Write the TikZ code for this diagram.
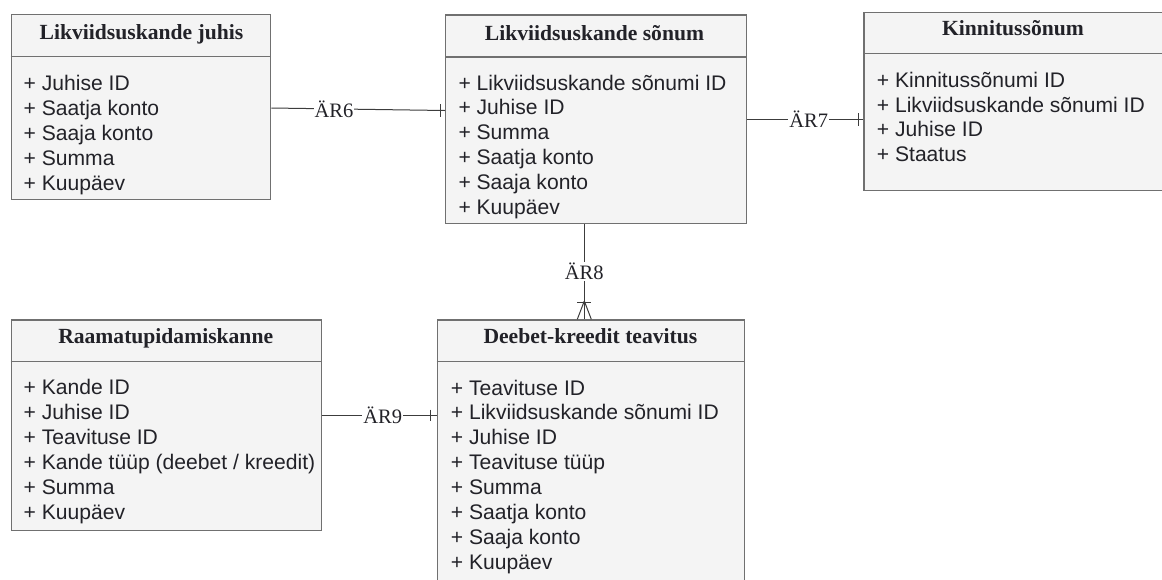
\documentclass[tikz,border=0pt]{standalone}
\usepackage{fontspec}
\setmainfont{Liberation Serif}
\newfontfamily\bodyfont{Liberation Sans}
\definecolor{boxfill}{RGB}{244,244,244}
\definecolor{boxline}{RGB}{112,112,112}
\definecolor{txt}{RGB}{34,34,40}
\definecolor{conn}{RGB}{60,60,60}
\begin{document}
\begin{tikzpicture}[x=1pt,y=-1pt,
  entity/.style={draw=boxline, fill=boxfill, line width=1.2pt, anchor=north west, inner sep=0pt},
  divider/.style={draw=boxline, line width=1.2pt},
  head/.style={font=\fontsize{21.6}{24}\selectfont\bfseries, text=txt, anchor=base, inner sep=0pt},
  attr/.style={font=\bodyfont\fontsize{21.1}{24.9}\selectfont, text=txt, anchor=base west, inner sep=0pt},
  rel/.style={draw=conn, line width=1pt},
  rellabel/.style={font=\fontsize{20.5}{22}\selectfont, text=txt, fill=white, inner sep=1pt}
]
\useasboundingbox (0,0) rectangle (1162,579);
\clip (0,0) rectangle (1162,579);

% Likviidsuskande juhis
\node[entity, minimum width=259.5pt, minimum height=185pt] (b1) at (10.7,14) {};
\draw[divider] (b1.west |- 0,56.5) -- (b1.east |- 0,56.5);
\node[head] (h1) at (141.5,39.5) {Likviidsuskande juhis};
\foreach \t [count=\i] in {+ Juhise ID, + Saatja konto, + Saaja konto, + Summa, + Kuupäev}
  \node[attr] (a1-\i) at (23.5,{90.7+24.85*(\i-1)}) {\t};

% Likviidsuskande sõnum
\node[entity, minimum width=301pt, minimum height=208.5pt] (b2) at (445,14.3) {};
\draw[divider] (b2.west |- 0,57) -- (b2.east |- 0,57);
\node[head] (h2) at (594.5,40) {Likviidsuskande sõnum};
\foreach \t [count=\i] in {+ Likviidsuskande sõnumi ID, + Juhise ID, + Summa, + Saatja konto, + Saaja konto, + Kuupäev}
  \node[attr] (a2-\i) at (458.3,{90+24.85*(\i-1)}) {\t};

% Kinnitussõnum
\node[entity, minimum width=310pt, minimum height=178.5pt] (b3) at (863.3,11.7) {};
\draw[divider] (b3.west |- 0,53.3) -- (b3.east |- 0,53.3);
\node[head] (h3) at (1013,35.5) {Kinnitussõnum};
\foreach \t [count=\i] in {+ Kinnitussõnumi ID, + Likviidsuskande sõnumi ID, + Juhise ID, + Staatus}
  \node[attr] (a3-\i) at (876.7,{87.3+24.8*(\i-1)}) {\t};

% Raamatupidamiskanne
\node[entity, minimum width=310pt, minimum height=210.5pt] (b4) at (10.7,319.3) {};
\draw[divider] (b4.west |- 0,361.7) -- (b4.east |- 0,361.7);
\node[head] (h4) at (165.7,343.5) {Raamatupidamiskanne};
\foreach \t [count=\i] in {+ Kande ID, + Juhise ID, + Teavituse ID, + Kande tüüp (deebet / kreedit), + Summa, + Kuupäev}
  \node[attr] (a4-\i) at (23.5,{394.8+24.9*(\i-1)}) {\t};

% Deebet-kreedit teavitus
\node[entity, minimum width=307.3pt, minimum height=280pt] (b5) at (436.7,319.3) {};
\draw[divider] (b5.west |- 0,361.7) -- (b5.east |- 0,361.7);
\node[head] (h5) at (590.4,343.5) {Deebet-kreedit teavitus};
\foreach \t [count=\i] in {+ Teavituse ID, + Likviidsuskande sõnumi ID, + Juhise ID, + Teavituse tüüp, + Summa, + Saatja konto, + Saaja konto, + Kuupäev}
  \node[attr] (a5-\i) at (450.7,{395+24.9*(\i-1)}) {\t};

% ÄR6
\draw[rel] (b1.east |- 0,108) -- (b2.west |- 0,110.5)
  node[rellabel, pos=0.36] (l6) {ÄR6};
\draw[rel] (b2.west |- 0,104) ++(-4.5,0) coordinate (t6a) -- ++(0,13) coordinate (t6b);
% ÄR7
\draw[rel] (b2.east |- 0,119.3) -- (b3.west |- 0,119.3)
  node[rellabel, pos=0.53] (l7) {ÄR7};
\draw[rel] (b3.west |- 0,113) ++(-5,0) coordinate (t7a) -- ++(0,12.6) coordinate (t7b);
% ÄR8
\draw[rel] (b2.south -| 584.3,0) -- (b5.north -| 584.3,0)
  node[rellabel, pos=0.5] (l8) {ÄR8};
\draw[rel] (577,302.5) coordinate (c8a) -- (591,302.5) coordinate (c8b);
\draw[rel] (584.3,301) coordinate (c8c) -- (577.3,319.3) coordinate (c8d);
\draw[rel] (c8c) -- (591.3,319.3) coordinate (c8e);
% ÄR9
\draw[rel] (b4.east |- 0,415) -- (b5.west |- 0,415)
  node[rellabel, pos=0.53] (l9) {ÄR9};
\draw[rel] (b5.west |- 0,409.7) ++(-6,0) coordinate (t9a) -- ++(0,11.5) coordinate (t9b);
\end{tikzpicture}
\end{document}
